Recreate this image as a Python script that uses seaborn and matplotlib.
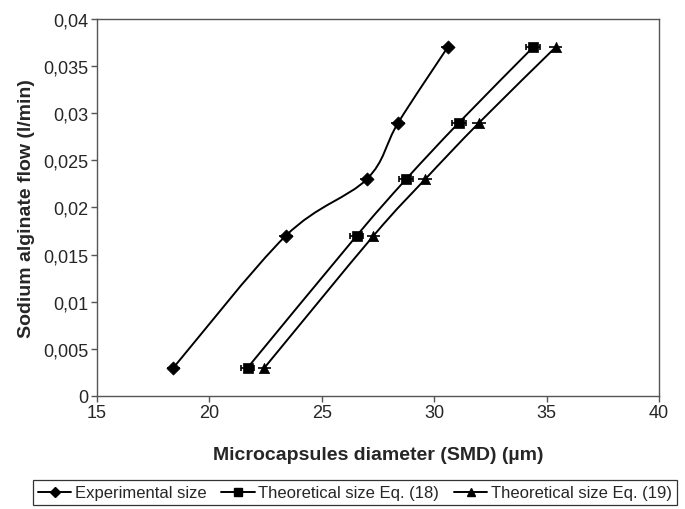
import matplotlib
matplotlib.use("Agg")
import matplotlib.pyplot as plt
from matplotlib.path import Path
from matplotlib.patches import PathPatch
from matplotlib.lines import Line2D
import numpy as np
import seaborn as sns

# sodium alginate flow (l/min)
flow = [0.003, 0.017, 0.023, 0.029, 0.037]

# microcapsule diameter (um)
exp_size = [18.4, 23.4, 27.0, 28.4, 30.6]
eq18_size = [21.7, 26.55, 28.75, 31.1, 34.4]
eq19_size = [22.45, 27.3, 29.6, 32.0, 35.4]
size_err = [0.3, 0.3, 0.3, 0.3, 0.3]

series_names = ["Experimental size", "Theoretical size Eq. (18)", "Theoretical size Eq. (19)"]

x_ticks = [15, 20, 25, 30, 35, 40]
y_ticks = [0, 0.005, 0.01, 0.015, 0.02, 0.025, 0.03, 0.035, 0.04]
y_tick_labels = ["0", "0,005", "0,01", "0,015", "0,02", "0,025", "0,03", "0,035", "0,04"]

sns.set_style("white")
plt.rcParams["font.family"] = ["Liberation Sans", "DejaVu Sans"]


def smooth_path(xs, ys):
    # excel-style smoothed line (catmull-rom bezier through the points)
    pts = np.column_stack([xs, ys])
    ext = np.vstack([pts[0], pts, pts[-1]])
    verts = [pts[0]]
    codes = [Path.MOVETO]
    for i in range(len(pts) - 1):
        p0, p1, p2, p3 = ext[i], ext[i + 1], ext[i + 2], ext[i + 3]
        verts += [p1 + (p2 - p0) / 6, p2 - (p3 - p1) / 6, p2]
        codes += [Path.CURVE4] * 3
    return Path(verts, codes)


fig = plt.figure(figsize=(6.85, 5.1), dpi=100)
ax = fig.add_axes([0.1416, 0.2216, 0.8204, 0.7392])

styles = [
    (exp_size, "D", 45, 0),
    (eq18_size, "s", 50, 2.5),
    (eq19_size, "^", 55, 0),
]
for (sizes, marker, msize, cap), name in zip(styles, series_names):
    ax.add_patch(PathPatch(smooth_path(sizes, flow), fill=False, edgecolor="black", lw=1.4, zorder=2))
    ax.errorbar(sizes, flow, xerr=size_err, fmt="none", ecolor="black", elinewidth=1.2,
                capsize=cap, capthick=1.2, zorder=3)
    sns.scatterplot(x=sizes, y=flow, marker=marker, s=msize, color="black",
                    edgecolor="black", linewidth=0.5, ax=ax, zorder=4)

ax.set_xlim(15, 40)
ax.set_ylim(0, 0.04)
ax.set_xticks(x_ticks)
ax.set_xticklabels([str(t) for t in x_ticks])
ax.set_yticks(y_ticks)
ax.set_yticklabels(y_tick_labels)
ax.tick_params(axis="both", direction="out", length=4, width=1, color="#555555",
               labelsize=13, pad=2, bottom=True, left=True)
for sp in ax.spines.values():
    sp.set_color("#555555")
    sp.set_linewidth(1)

ax.set_xlabel("Microcapsules diameter (SMD) (µm)", fontsize=14, fontweight="bold", labelpad=18)
ax.set_ylabel("Sodium alginate flow (l/min)", fontsize=14, fontweight="bold", labelpad=6)

handles = [
    Line2D([], [], color="black", lw=1.4, marker="D", markersize=5),
    Line2D([], [], color="black", lw=1.4, marker="s", markersize=6),
    Line2D([], [], color="black", lw=1.4, marker="^", markersize=6),
]
leg = fig.legend(handles, series_names, loc="upper center", bbox_to_anchor=(0.518, 0.056),
                 borderaxespad=0, ncol=3, fontsize=12, frameon=True, fancybox=False,
                 edgecolor="black", handlelength=2.0, handletextpad=0.2, columnspacing=0.9,
                 borderpad=0.3)
leg.get_frame().set_linewidth(0.9)

fig.savefig("out.png", dpi=100)
